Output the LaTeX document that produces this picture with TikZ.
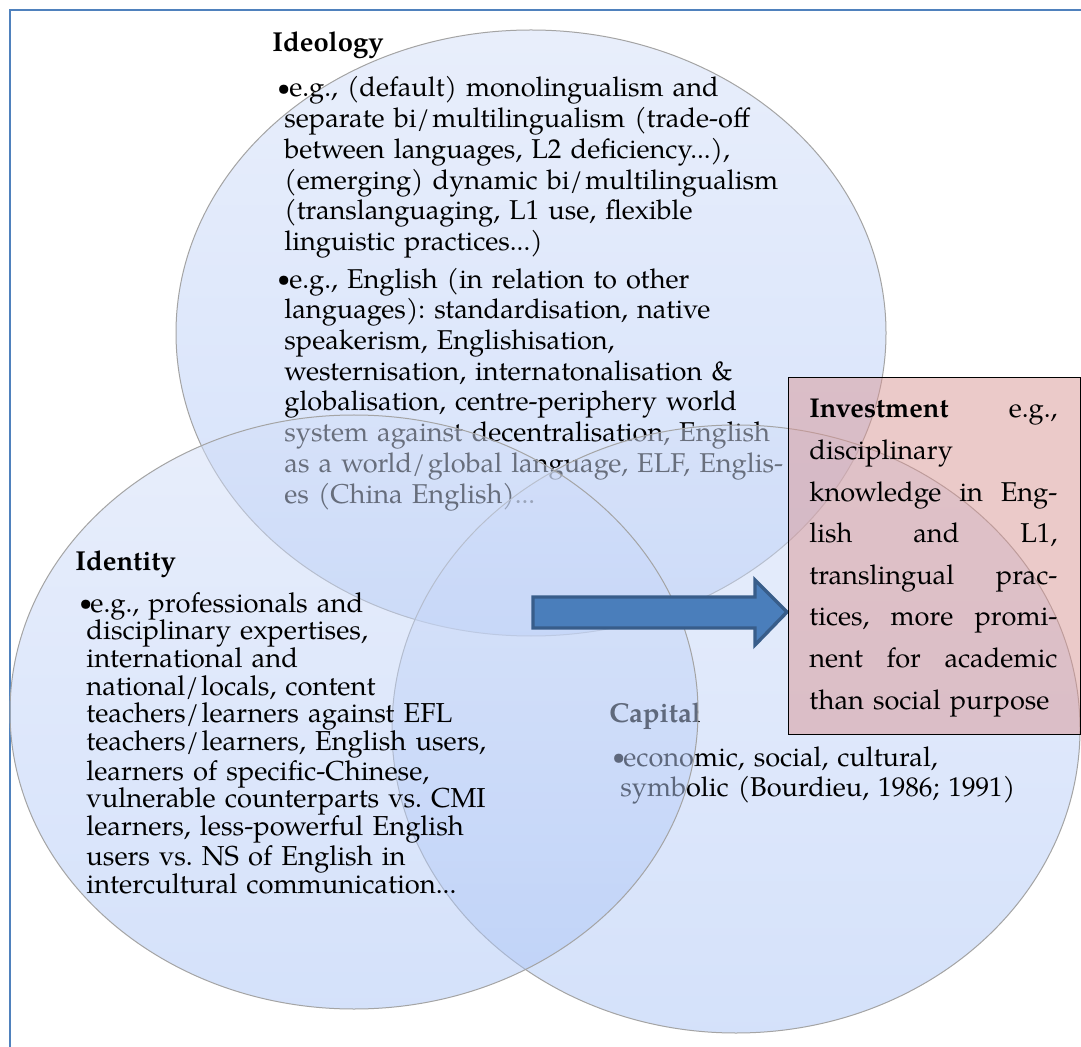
\documentclass[tikz,border=0pt]{standalone}
\usepackage{fontspec}
\setmainfont{TeX Gyre Pagella}
\definecolor{frameblue}{HTML}{4F81BD}
\definecolor{ctop}{HTML}{D3DFF9}
\definecolor{cbot}{HTML}{ABC5F7}
\definecolor{arrowfill}{HTML}{4A7EBB}
\definecolor{arrowdraw}{HTML}{385D8A}
\definecolor{boxfill}{HTML}{D99694}
\definecolor{ringline}{HTML}{A4A4A4}
\newcommand\vbul[1]{\makebox[#1][l]{\raisebox{0.7pt}{\fontsize{11.5}{10}\selectfont\textbullet}}}
\newcommand\vind[1]{\hspace*{#1}}
\newcommand\vsl{/\kern1.2pt}
\begin{document}
\begin{tikzpicture}[x=0.5pt,y=-0.5pt,
  venn/.style={draw=ringline, line width=0.5pt, top color=ctop, bottom color=cbot, fill opacity=0.5},
  txtblock/.style={anchor=base west, inner sep=0pt, text width=#1, align=left, execute at begin node=\frenchspacing},
  arrowshape/.style={fill=arrowfill, draw=arrowdraw, line width=1.7pt, line join=miter},
  investbox/.style={draw=black, line width=0.5pt, fill=boxfill, fill opacity=0.5},
  frameline/.style={draw=frameblue, line width=1.2pt}]
\useasboundingbox (0,0) rectangle (1081,1047);
\clip (0,0) rectangle (1081,1047);
\fill[white] (0,0) rectangle (1081,1047);
\draw[frameline] (10,10) rectangle (1200,1200);

% Ideology
\path[venn] (531,333) ellipse [x radius=177.5pt, y radius=151.5pt];
\node[txtblock=100pt, font=\fontsize{13.7}{15.35}\selectfont\bfseries] (ideot) at (272,52) {Ideology};
\node[txtblock=330pt, font=\fontsize{13.6}{15.35}\selectfont] (ideob) at (277,97) {%
\vbul{6pt}e.g., (default) monolingualism and\\
\vind{3.5pt}separate bi\vsl multilingualism (trade-off\\
\vind{3.5pt}between languages, L2 deficiency...),\\
\vind{3.5pt}(emerging) dynamic bi\vsl multilingualism\\
\vind{3.5pt}(translanguaging, L1 use, flexible\\
\vind{3.5pt}linguistic practices...)\\[3.5pt]
\vbul{6pt}e.g., English (in relation to other\\
\vind{3.5pt}languages): standardisation, native\\
\vind{3.5pt}speakerism, Englishisation,\\
\vind{3.5pt}westernisation, internatonalisation \&\\
\vind{3.5pt}globalisation, centre-periphery world\\
\vind{3.5pt}system against decentralisation, English\\
\vind{3.5pt}as a world\vsl global language, ELF, Englis-\\
\vind{3.5pt}es (China English)...};

% Capital
\path[venn] (736,729) ellipse [x radius=172pt, y radius=152pt];
\node[txtblock=100pt, font=\fontsize{13.7}{15}\selectfont\bfseries] (capt) at (609,722) {Capital};
\node[txtblock=260pt, font=\fontsize{13.6}{15}\selectfont] (capb) at (612,766) {%
\vbul{5.5pt}economic, social, cultural,\\
\vind{4pt}symbolic (Bourdieu, 1986; 1991)};

% Identity
\path[venn] (354,712) ellipse [x radius=172pt, y radius=148.5pt];
\node[txtblock=100pt, font=\fontsize{13.7}{13.85}\selectfont\bfseries] (idt) at (75,570) {Identity};
\node[txtblock=280pt, font=\fontsize{13.7}{13.85}\selectfont] (idb) at (79,612) {%
\vbul{5.5pt}e.g., professionals and\\
\vind{3.5pt}disciplinary expertises,\\
\vind{3.5pt}international and\\
\vind{3.5pt}national\vsl locals, content\\
\vind{3.5pt}teachers\vsl learners against EFL\\
\vind{3.5pt}teachers\vsl learners, English users,\\
\vind{3.5pt}learners of specific-Chinese,\\
\vind{3.5pt}vulnerable counterparts vs. CMI\\
\vind{3.5pt}learners, less-powerful English\\
\vind{3.5pt}users vs. NS of English in\\
\vind{3.5pt}intercultural communication...};

% arrow
\path[arrowshape] (533,597) -- (755,597) -- (755,580) -- (787,612) -- (755,645) -- (755,628) -- (533,628) -- cycle;

% Investment box
\path[investbox] (788,378) rectangle (1080,734);
\node[txtblock=124pt, font=\fontsize{13.6}{20.8}\selectfont] (inv) at (809,418) {%
\makebox[124pt][s]{\textbf{Investment}\hfill e.g.,}\\
disciplinary\\
\makebox[124pt][s]{knowledge\hfill in\hfill Eng-}\\
\makebox[124pt][s]{lish\hfill and\hfill L1,}\\
\makebox[124pt][s]{translingual\hfill prac-}\\
\makebox[124pt][s]{tices,\hfill more\hfill promi-}\\
\makebox[124pt][s]{nent\hfill for\hfill academic}\\
than social purpose};
\end{tikzpicture}
\end{document}
